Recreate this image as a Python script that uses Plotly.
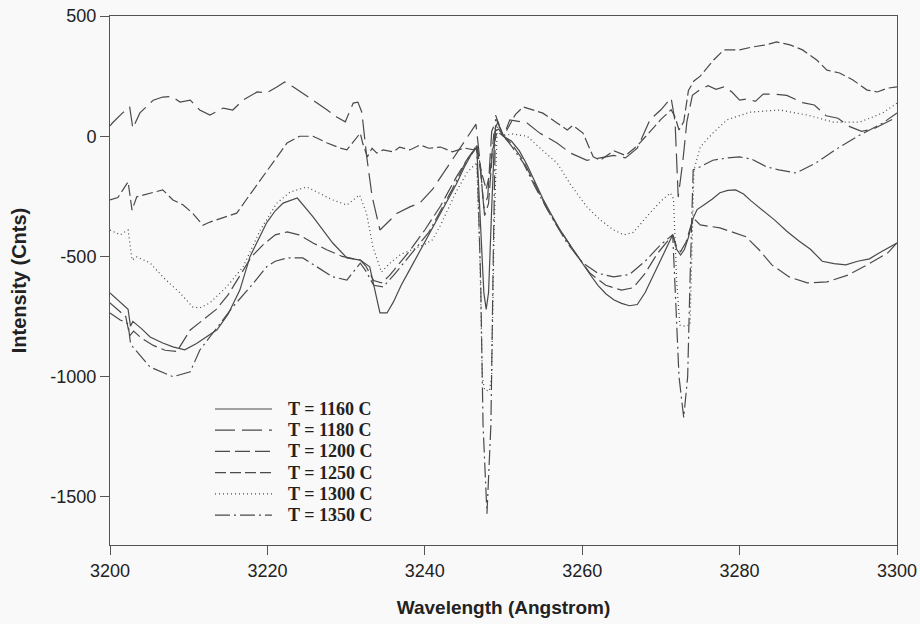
import plotly.graph_objects as go

# ---------------- data ----------------
series_names = ["T = 1160 C", "T = 1180 C", "T = 1200 C", "T = 1250 C", "T = 1300 C", "T = 1350 C"]

wl_1160 = [3200.0, 3201.0, 3202.0, 3202.3, 3202.6, 3202.9, 3204.0, 3205.1, 3206.7, 3208.0, 3209.5, 3211.0,
           3213.6, 3215.0, 3216.5, 3217.8, 3219.0, 3219.9, 3221.0, 3222.0, 3223.8, 3225.8, 3228.3, 3230.1,
           3231.8, 3233.0, 3234.3, 3235.2, 3236.0, 3237.0, 3238.0, 3239.0, 3240.0, 3241.0, 3242.0, 3243.0,
           3244.0, 3245.0, 3246.0, 3246.6, 3247.0, 3247.5, 3247.8, 3248.1, 3248.5, 3248.9, 3249.4, 3250.0,
           3251.0, 3252.0, 3253.0, 3254.0, 3255.0, 3256.0, 3257.0, 3258.0, 3259.0, 3260.0, 3261.0, 3262.0,
           3263.0, 3264.0, 3265.0, 3266.0, 3267.0, 3268.0, 3269.0, 3270.0, 3271.0, 3271.5, 3272.0, 3272.5,
           3273.0, 3273.5, 3274.1, 3274.6, 3275.5, 3276.5, 3277.5, 3278.5, 3279.5, 3280.5, 3281.5, 3283.0,
           3284.5, 3286.0, 3287.5, 3289.0, 3290.5, 3292.0, 3293.5, 3295.0, 3296.5, 3298.0, 3300.0]
int_1160 = [-652, -680, -710, -720, -790, -770, -800, -835, -860, -876, -888, -862,
            -805, -740, -640, -500, -420, -360, -310, -278, -257, -335, -444, -506,
            -515, -543, -735, -735, -690, -620, -560, -500, -440, -380, -320, -260,
            -200, -130, -70, -45, -300, -650, -720, -650, -300, 20, 30, 0,
            -20, -60, -120, -190, -260, -320, -380, -430, -480, -530, -575, -620,
            -655, -680, -695, -705, -700, -650, -580, -510, -440, -410, -470, -494,
            -470, -420, -340, -305, -285, -262, -235, -225, -223, -240, -270, -310,
            -350, -395, -435, -470, -520, -530, -535, -520, -510, -480, -444]

wl_1180 = [3200.0, 3200.3, 3201.6, 3202.5, 3202.9, 3203.8, 3205.5, 3206.7, 3207.9, 3208.9, 3210.2, 3211.4,
           3212.7, 3214.4, 3215.6, 3216.9, 3218.7, 3219.9, 3221.2, 3222.2, 3223.3, 3224.5, 3225.8, 3227.6,
           3228.8, 3229.9, 3230.9, 3231.5, 3232.0, 3232.6, 3233.3, 3234.3, 3234.7, 3236.5, 3238.1, 3239.4,
           3241.0, 3243.0, 3245.0, 3246.5, 3247.0, 3247.5, 3248.0, 3248.5, 3249.1, 3250.0, 3250.8, 3253.0,
           3254.6, 3256.8, 3258.5, 3260.6, 3262.3, 3264.0, 3265.5, 3267.0, 3268.6, 3270.0, 3271.3, 3271.8,
           3272.2, 3272.8, 3273.3, 3274.0, 3275.0, 3276.0, 3277.0, 3278.0, 3279.0, 3280.0, 3281.0, 3282.0,
           3283.0, 3284.5, 3286.0, 3288.0, 3289.5, 3291.0, 3292.5, 3294.0, 3295.5, 3297.0, 3298.5, 3300.0]
int_1180 = [43, 55, 97, 122, 33, 97, 150, 163, 165, 142, 150, 109,
            88, 117, 109, 150, 184, 180, 205, 226, 205, 180, 150, 109,
            80, 60, 138, 142, 100, -80, -250, -390, -377, -320, -294, -277,
            -220, -120, -20, 50, -100, -300, -250, 20, 70, 0, 68, 55,
            13, -28, -70, -100, -90, -80, -90, -50, 68, 110, 159, 60,
            -253, -100, 60, 170, 195, 210, 195, 205, 185, 150, 155, 145,
            175, 175, 170, 140, 130, 85, 75, 40, 20, 30, 55, 80]

wl_1200 = [3200.0, 3201.0, 3202.0, 3202.5, 3203.0, 3204.0, 3205.5, 3207.0, 3208.5, 3210.2, 3212.0, 3213.5,
           3215.0, 3216.5, 3218.0, 3219.5, 3221.0, 3222.5, 3224.0, 3225.8, 3227.6, 3229.5, 3231.0, 3231.8,
           3232.5, 3233.5, 3234.5, 3235.5, 3236.5, 3238.0, 3240.0, 3242.0, 3244.0, 3245.5, 3246.6, 3247.1,
           3247.6, 3248.1, 3248.6, 3249.2, 3250.0, 3251.0, 3252.5, 3254.0, 3255.5, 3257.0, 3259.0, 3261.0,
           3263.0, 3265.0, 3266.5, 3268.0, 3269.5, 3271.5, 3272.0, 3272.5, 3273.2, 3274.1, 3275.0, 3277.5,
           3279.0, 3280.8, 3282.5, 3284.1, 3286.3, 3288.6, 3291.1, 3293.8, 3296.2, 3298.8, 3300.0]
int_1200 = [-693, -720, -750, -830, -810, -840, -870, -890, -895, -806, -760, -720,
            -660, -580, -500, -450, -410, -398, -410, -444, -473, -500, -510, -515,
            -540, -600, -610, -580, -540, -480, -390, -290, -170, -90, -40, -150,
            -330, -280, -60, 20, 0, -30, -100, -200, -300, -380, -480, -570,
            -620, -640, -630, -570, -490, -410, -460, -480, -440, -340, -369, -381,
            -397, -418, -473, -535, -585, -610, -606, -577, -535, -486, -444]

wl_1250 = [3200.0, 3201.0, 3202.3, 3202.8, 3203.4, 3205.1, 3206.7, 3208.0, 3209.3, 3210.5, 3211.8, 3212.7,
           3214.4, 3216.1, 3217.4, 3218.7, 3220.7, 3222.5, 3224.1, 3225.8, 3227.6, 3229.2, 3230.1, 3231.8,
           3232.1, 3232.7, 3233.3, 3233.9, 3234.7, 3236.0, 3236.8, 3238.1, 3239.4, 3240.5, 3242.0, 3243.5,
           3245.0, 3246.2, 3246.6, 3247.2, 3247.8, 3248.3, 3248.8, 3249.3, 3250.0, 3251.5, 3252.5, 3253.7,
           3255.0, 3256.8, 3258.1, 3258.8, 3260.1, 3261.4, 3262.3, 3264.0, 3265.5, 3267.0, 3268.6, 3270.0,
           3271.3, 3271.8, 3272.3, 3272.9, 3273.5, 3274.2, 3275.0, 3276.7, 3278.0, 3280.0, 3281.6, 3283.4,
           3284.7, 3286.4, 3288.0, 3289.8, 3291.1, 3292.7, 3294.4, 3296.2, 3297.5, 3298.8, 3300.0]
int_1250 = [-265, -255, -190, -307, -252, -236, -223, -265, -286, -320, -370, -357,
            -340, -320, -260, -200, -111, -28, 0, 0, -28, -49, -57, 13,
            -28, -86, -50, -70, -57, -65, -45, -57, -36, -50, -45, -65,
            -49, -57, -36, -150, -220, -150, 20, 60, 0, 90, 122, 109,
            96, 55, 26, 45, 13, -86, -100, -60, -80, -40, 18, 70,
            110, 80, 26, 60, 190, 230, 250, 317, 359, 359, 371, 380,
            392, 380, 359, 317, 275, 263, 234, 192, 184, 200, 205]

wl_1300 = [3200.0, 3201.3, 3202.3, 3202.8, 3203.4, 3205.1, 3206.7, 3208.9, 3210.5, 3211.4, 3212.7, 3214.8,
           3216.9, 3219.1, 3221.2, 3222.9, 3225.0, 3226.6, 3228.3, 3230.1, 3231.7, 3232.6, 3233.4, 3234.5,
           3235.5, 3237.0, 3238.5, 3240.0, 3241.0, 3242.0, 3243.0, 3244.0, 3245.4, 3246.6, 3247.0, 3247.3,
           3247.6, 3248.2, 3248.5, 3248.8, 3249.2, 3250.0, 3251.0, 3253.0, 3255.0, 3256.8, 3258.5, 3260.6,
           3262.3, 3264.0, 3265.3, 3266.5, 3268.6, 3270.0, 3271.2, 3271.6, 3272.0, 3272.4, 3273.0, 3273.7,
           3274.0, 3274.2, 3275.0, 3276.6, 3278.4, 3281.3, 3285.1, 3288.6, 3291.9, 3295.3, 3298.2, 3300.0]
int_1300 = [-390, -410, -390, -515, -502, -527, -585, -652, -710, -714, -693, -627,
            -544, -390, -278, -232, -211, -236, -265, -286, -244, -320, -460, -565,
            -530, -490, -470, -450, -430, -370, -300, -230, -150, -110, -500, -1000,
            -1055, -1060, -1000, -400, 40, 0, 10, 0, -60, -111, -200, -294,
            -348, -390, -410, -400, -320, -270, -236, -260, -600, -785, -790, -785,
            -400, -140, -45, 13, 68, 100, 109, 88, 59, 59, 97, 138]

wl_1350 = [3200.0, 3201.3, 3202.3, 3202.6, 3202.9, 3205.1, 3208.0, 3210.2, 3211.4, 3213.5, 3215.6, 3218.0,
           3219.9, 3221.0, 3222.5, 3224.5, 3226.3, 3228.3, 3230.1, 3231.8, 3232.5, 3233.5, 3234.7, 3236.0,
           3237.5, 3239.0, 3240.5, 3242.0, 3243.5, 3245.0, 3246.6, 3247.1, 3247.4, 3247.9, 3248.4, 3248.7,
           3249.0, 3249.5, 3250.0, 3251.0, 3252.5, 3254.0, 3256.0, 3258.0, 3260.0, 3262.0, 3264.0, 3266.0,
           3268.0, 3270.0, 3271.5, 3271.9, 3272.3, 3272.9, 3273.4, 3273.7, 3274.1, 3275.0, 3276.6, 3278.5,
           3280.0, 3281.5, 3283.4, 3285.0, 3287.2, 3289.7, 3292.7, 3295.3, 3298.2, 3300.0]
int_1350 = [-735, -764, -780, -860, -876, -960, -1000, -980, -890, -800, -710, -620,
            -543, -520, -506, -506, -543, -585, -598, -528, -560, -620, -627, -580,
            -520, -460, -400, -310, -220, -120, -45, -600, -1200, -1570, -1200, -500,
            88, 40, 0, -40, -110, -210, -330, -440, -525, -570, -585, -575,
            -520, -450, -410, -700, -1000, -1170, -1000, -600, -140, -127, -100, -90,
            -86, -95, -127, -140, -153, -111, -45, 5, 55, 97]

x_tick_vals = [3200, 3220, 3240, 3260, 3280, 3300]
y_tick_vals = [500, 0, -500, -1000, -1500]
y_tick_text = ["500", "0", "-500", "-1000", "-1500"]

# ---------------- styling ----------------
wls = [wl_1160, wl_1180, wl_1200, wl_1250, wl_1300, wl_1350]
ints = [int_1160, int_1180, int_1200, int_1250, int_1300, int_1350]
dashes = ["solid", "20px,7px", "15px,5px", "11px,4px", "1px,3px", "15px,4px,2px,4px"]
line_color = "#4a4a4a"
bg = "#f9f9f9"
sans = "Liberation Sans, Arial, sans-serif"

fig = go.Figure()
for name, xs, ys, d in zip(series_names, wls, ints, dashes):
    fig.add_trace(go.Scatter(x=xs, y=ys, mode="lines", name=name, showlegend=False,
                             line=dict(color=line_color, width=1.2, dash=d)))

# manual legend (compact spacing like the reference)
leg_x0, leg_x1, leg_tx = 0.1334, 0.2058, 0.2249
leg_y0, leg_dy = 0.2571, 0.0401
for i, (name, d) in enumerate(zip(series_names, dashes)):
    yy = leg_y0 - i * leg_dy
    fig.add_shape(type="line", xref="paper", yref="paper", x0=leg_x0, x1=leg_x1, y0=yy, y1=yy,
                  line=dict(color=line_color, width=1.2, dash=d))
    fig.add_annotation(xref="paper", yref="paper", x=leg_tx, y=yy, text="<b>" + name + "</b>",
                       showarrow=False, xanchor="left", yanchor="middle", borderpad=0,
                       font=dict(family="Liberation Serif, Times New Roman, serif", size=18, color="#222"))

axis_common = dict(showline=True, linecolor="#555", linewidth=1, mirror=True, ticks="outside",
                   ticklen=9, tickcolor="#555", showgrid=False, zeroline=False, automargin=False,
                   tickfont=dict(family=sans, size=18, color="#222"))

fig.update_layout(
    width=920, height=624,
    margin=dict(l=110, r=23, t=16, b=79),
    paper_bgcolor=bg, plot_bgcolor=bg,
    xaxis=dict(range=[3200, 3300], tickvals=x_tick_vals, ticklabelstandoff=0,
               title=dict(text="<b>Wavelength (Angstrom)</b>", standoff=21,
                          font=dict(family=sans, size=19, color="#222")),
               **axis_common),
    yaxis=dict(range=[-1700, 500], tickvals=y_tick_vals, ticktext=y_tick_text, ticklabelstandoff=0,
               title=dict(text="<b>Intensity (Cnts)</b>", standoff=18,
                          font=dict(family=sans, size=20, color="#222")),
               **axis_common),
)

fig.write_html("out.html")
